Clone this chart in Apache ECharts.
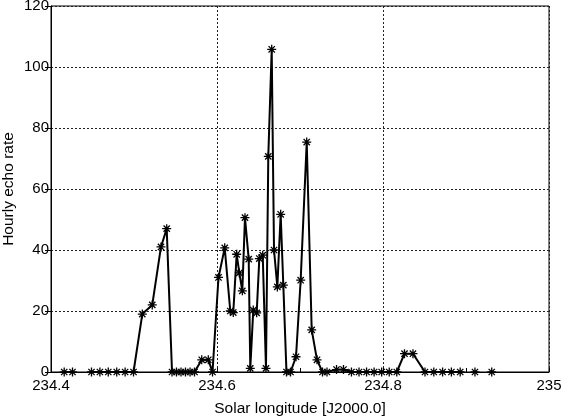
<!DOCTYPE html>
<html>
<head>
<meta charset="utf-8">
<script src="https://cdn.jsdelivr.net/npm/echarts@6/dist/echarts.min.js"></script>
<style>html,body{margin:0;padding:0;background:#fff}#c{width:563px;height:416px}</style>
</head>
<body>
<div id="c"></div>
<script>
// Solar longitude (J2000.0) of each hourly-rate sample
var lon = [234.4159, 234.4259, null,
  234.4488, 234.4589, 234.4690, 234.4792, 234.4893, 234.4994, 234.5100, 234.5220, 234.5325, 234.5394,
  234.5458, 234.5512, 234.5566, 234.5620, 234.5675, 234.5729, 234.5816, 234.5895, 234.5946,
  234.6018, 234.6093, 234.6160, 234.6196, 234.6237, 234.6269, 234.6305, 234.6337, 234.6382,
  234.6401, 234.6437, 234.6478, 234.6510, 234.6551, 234.6590, 234.6618, 234.6659, 234.6687,
  234.6727, 234.6767, 234.6799, 234.6837, 234.6886, 234.6952, 234.7008, 234.7081, 234.7141,
  234.7205, 234.7271, 234.7325, 234.7440, 234.7524, 234.7620, 234.7711, 234.7802, 234.7893,
  234.7984, 234.8075, 234.8166, 234.8259, 234.8361, 234.8506, 234.8612, 234.8718, 234.8824,
  234.8930, null, 234.9108, null, 234.9310];
// Hourly echo rate (null = gap in the record)
var rate = [0, 0, null,
  0, 0, 0, 0, 0, 0, 19, 22, 41, 47,
  0, 0, 0, 0, 0, 0, 4, 4, 0,
  31, 40.7, 20, 19.5, 38.6, 32.5, 26.6, 50.6, 37,
  1.2, 20.3, 19.4, 37.2, 38.3, 1.2, 70.7, 105.8, 40,
  27.9, 51.7, 28.5, 0, 0, 5, 30.1, 75.4, 13.8,
  4, 0, 0, 0.8, 0.8, 0, 0, 0, 0,
  0, 0, 0, 6, 6, 0, 0, 0, 0,
  0, null, 0, null, 0];
var xTicks = [234.4, 234.6, 234.8, 235];
var yTicks = [0, 20, 40, 60, 80, 100, 120];

var data = [];
for (var i = 0; i < rate.length; i++) {
  if (rate[i] === null) {
    data.push([lon[i - 1], '-']);
  } else {
    data.push([lon[i], rate[i]]);
  }
}

var font = 'Liberation Sans';
var chart = echarts.init(document.getElementById('c'), null, {renderer: 'canvas'});
chart.setOption({
  animation: false,
  backgroundColor: '#fff',
  grid: {left: 51, right: 14, top: 6, bottom: 44, containLabel: false, outerBoundsMode: 'none',
    show: true, borderColor: '#000', borderWidth: 1, backgroundColor: 'transparent'},
  xAxis: {
    type: 'value',
    min: xTicks[0], max: xTicks[xTicks.length - 1], interval: 0.2,
    name: 'Solar longitude [J2000.0]', nameLocation: 'middle', nameGap: 29, nameMoveOverlap: false,
    nameTextStyle: {fontFamily: font, fontSize: 15.5, color: '#000'},
    axisLine: {show: true, onZero: false, lineStyle: {color: '#000', width: 1}},
    axisTick: {show: true, inside: true, length: 4, lineStyle: {color: '#000'}},
    minorTick: {show: true, splitNumber: 2, length: 4, lineStyle: {color: '#000'}},
    axisLabel: {fontFamily: font, fontSize: 15, color: '#000', margin: 6,
      formatter: function (v) { return String(parseFloat(v.toFixed(1))); }},
    splitLine: {show: true, lineStyle: {color: '#222', type: [2, 2], width: 1}}
  },
  yAxis: {
    type: 'value',
    min: yTicks[0], max: yTicks[yTicks.length - 1], interval: 20,
    name: 'Hourly echo rate', nameLocation: 'middle', nameGap: 34, nameMoveOverlap: false,
    nameTextStyle: {fontFamily: font, fontSize: 15.5, color: '#000'},
    axisLine: {show: true, lineStyle: {color: '#000', width: 1}},
    axisTick: {show: true, inside: false, length: 6, lineStyle: {color: '#000'}},
    axisLabel: {fontFamily: font, fontSize: 15, color: '#000', margin: 2},
    splitLine: {show: true, lineStyle: {color: '#222', type: [2, 2], width: 1}}
  },
  series: [{
    type: 'line',
    data: data,
    connectNulls: false,
    symbol: 'path://M0,-10L0,10M-10,0L10,0M-7,-7L7,7M-7,7L7,-7',
    symbolSize: 9,
    showAllSymbol: true,
    itemStyle: {color: 'rgba(0,0,0,0)', borderColor: '#000', borderWidth: 1.3},
    lineStyle: {color: '#000', width: 2},
    z: 3
  }]
});
</script>
</body>
</html>
